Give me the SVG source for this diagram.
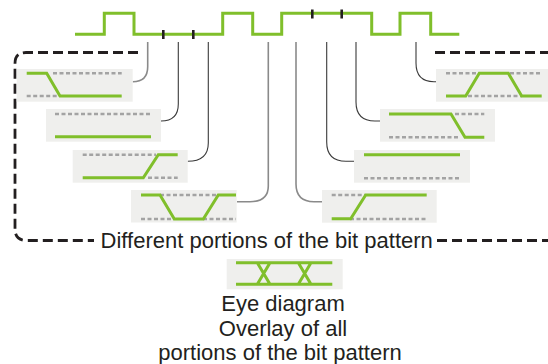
<svg xmlns="http://www.w3.org/2000/svg" width="548" height="364" viewBox="0 0 548 364">
<style>
.bg{fill:#ffffff}
.panel{fill:#efefed;stroke:none}
.sig{fill:none;stroke:#80bf2b;stroke-width:3;stroke-linejoin:miter}
.gd{fill:none;stroke:#a3a3a3;stroke-width:2.5;stroke-dasharray:4 2.5}
.tick{stroke:#231f20;stroke-width:2.6}
.border{fill:none;stroke:#231f20;stroke-width:2.8;stroke-dasharray:10 5}
.cd{fill:none;stroke:#3a3a3a;stroke-width:1.1}
.cg{fill:none;stroke:#8a8a8a;stroke-width:1.6}
.t{font-family:"Liberation Sans",Arial,sans-serif;font-size:22px;fill:#231f20}
</style>
<rect class="bg" width="548" height="364"/>

<g id="signal">
<path class="sig" d="M75,34.3 H104.3 V13.3 H134 V34.3 H222.7 V13.3 H252.7 V34.3 H281.7 V13.3 H371.7 V34.3 H400 V13.3 H430.7 V34.3 H459.3"/>
<line class="tick" x1="163.3" y1="30" x2="163.3" y2="39"/>
<line class="tick" x1="193.3" y1="30" x2="193.3" y2="39"/>
<line class="tick" x1="312.3" y1="9.5" x2="312.3" y2="18.5"/>
<line class="tick" x1="341.7" y1="9.5" x2="341.7" y2="18.5"/>
</g>

<g id="border">
<path class="border" d="M138,52.5 H26 Q15,52.5 15,63.5 V229 Q15,240.5 27,240.5 H94"/>
<path class="border" d="M437,240.5 H560"/>
<path class="border" d="M435,52.5 H560"/>
</g>

<g id="connectors">
<path class="cg" d="M147.7,42 V66.7 Q147.7,81.7 132.7,81.7"/>
<path class="cd" d="M178.3,42 V104 Q178.3,121 161,121"/>
<path class="cd" d="M208.3,42 V143 Q208.3,161.3 187.7,161.3"/>
<path class="cg" d="M268.3,42 V186 Q268.3,201.7 250,201.7 H237"/>
<path class="cg" d="M296,42 V184 Q296,201.7 314,201.7 H322"/>
<path class="cd" d="M326.7,42 V142 Q326.7,161.3 346,161.3 H354"/>
<path class="cd" d="M356,42 V102 Q356,121 375,121 H380"/>
<path class="cd" d="M416,42 V63 Q416,81.7 434,81.7 H436"/>
</g>

<g id="panel1">
<rect class="panel" x="16.7" y="69" width="116" height="32.7"/>
<line class="gd" x1="53" y1="73.3" x2="121.7" y2="73.3"/>
<line class="gd" x1="26.7" y1="96" x2="57" y2="96"/>
<path class="sig" d="M26.7,73.3 H46.7 L60,96 H121.7"/>
</g>

<g id="panel2">
<rect class="panel" x="46" y="109" width="115" height="32.7"/>
<line class="gd" x1="55" y1="114" x2="151" y2="114"/>
<path class="sig" d="M55,136.7 H151"/>
</g>

<g id="panel3">
<rect class="panel" x="72.7" y="150" width="115" height="32.7"/>
<line class="gd" x1="82.7" y1="154.7" x2="156" y2="154.7"/>
<line class="gd" x1="148" y1="177.7" x2="177.7" y2="177.7"/>
<path class="sig" d="M82.7,177.7 H143.3 L158.3,154.7 H177.7"/>
</g>

<g id="panel4">
<rect class="panel" x="131" y="190" width="105.7" height="32.5"/>
<line class="gd" x1="160" y1="195" x2="218" y2="195"/>
<line class="gd" x1="141" y1="219" x2="174" y2="219"/>
<line class="gd" x1="203" y1="219" x2="236" y2="219"/>
<path class="sig" d="M141,195 H160 L174.3,219 H203.3 L218.3,195 H236"/>
</g>

<g id="panel5">
<rect class="panel" x="436" y="69" width="116" height="32.7"/>
<line class="gd" x1="446" y1="73.3" x2="476" y2="73.3"/>
<line class="gd" x1="510" y1="73.3" x2="541.7" y2="73.3"/>
<line class="gd" x1="468" y1="96" x2="522" y2="96"/>
<path class="sig" d="M446,96 H465.7 L479.3,73.3 H508.3 L521.7,96 H541.7"/>
</g>

<g id="panel6">
<rect class="panel" x="380" y="109" width="115" height="32.7"/>
<line class="gd" x1="455" y1="114" x2="484.3" y2="114"/>
<line class="gd" x1="389" y1="137.3" x2="458" y2="137.3"/>
<path class="sig" d="M389,114 H451 L465,137.3 H484.3"/>
</g>

<g id="panel7">
<rect class="panel" x="354" y="150" width="116" height="32.7"/>
<line class="gd" x1="364" y1="178.3" x2="460" y2="178.3"/>
<path class="sig" d="M364,154.7 H460"/>
</g>

<g id="panel8">
<rect class="panel" x="322" y="190" width="114.7" height="32.7"/>
<line class="gd" x1="331.7" y1="195" x2="365" y2="195"/>
<line class="gd" x1="350" y1="219" x2="427" y2="219"/>
<path class="sig" d="M331.7,218.7 H350.7 L365.7,195 H426.7"/>
</g>

<g id="eye">
<rect class="panel" x="226.7" y="259" width="116" height="30.3"/>
<path class="sig" d="M236,262.7 H332.3 M236,284.3 H332.3 M257.3,262.7 L270,284.3 M270,262.7 L257.3,284.3 M298.3,262.7 L311,284.3 M311,262.7 L298.3,284.3"/>
</g>

<g id="labels">
<text class="t" x="266.7" y="247.7" text-anchor="middle">Different portions of the bit pattern</text>
<text class="t" x="283" y="310.5" text-anchor="middle">Eye diagram</text>
<text class="t" x="283" y="335.5" text-anchor="middle">Overlay of all</text>
<text class="t" x="280" y="360" text-anchor="middle">portions of the bit pattern</text>
</g>
</svg>
